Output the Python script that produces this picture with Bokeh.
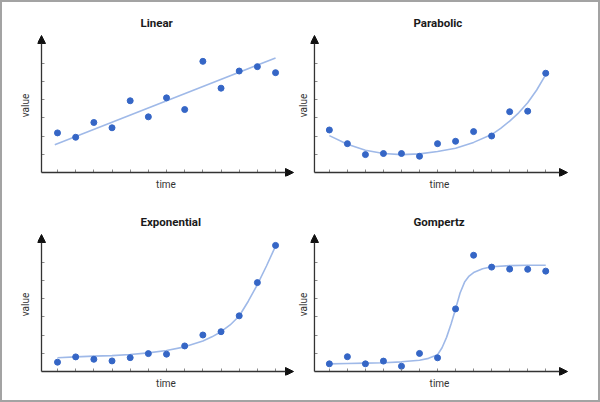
from bokeh.plotting import figure
from bokeh.layouts import gridplot
from bokeh.models import Arrow, NormalHead, FixedTicker, Range1d, CustomJSTickFormatter, LinearAxis
from bokeh.embed import file_html
from bokeh.resources import INLINE

# ---- data ----
time = [1, 2, 3, 4, 5, 6, 7, 8, 9, 10, 11, 12, 13]
y_ticks = [1, 2, 3, 4, 5, 6]
x_label = "time"
y_label = "value"

linear_title = "Linear"
linear_values = [2.17, 1.93, 2.74, 2.45, 3.93, 3.05, 4.09, 3.45, 6.09, 4.62, 5.56, 5.80, 5.47]
linear_fit_t = [0.85, 13.0]
linear_fit_v = [1.52, 6.28]

parabolic_title = "Parabolic"
parabolic_values = [2.33, 1.58, 0.98, 1.04, 1.04, 0.89, 1.58, 1.71, 2.24, 2.00, 3.33, 3.36, 5.44]
parabolic_fit_t = [1, 2, 3, 4, 5, 6, 7, 8, 9, 10, 10.5, 11, 11.5, 12, 12.5, 13]
parabolic_fit_v = [2.02, 1.55, 1.22, 1.04, 0.98, 1.02, 1.15, 1.33, 1.65, 2.08, 2.42, 2.82, 3.27, 3.82, 4.52, 5.36]

exponential_title = "Exponential"
exponential_values = [0.51, 0.80, 0.67, 0.58, 0.76, 0.98, 0.95, 1.40, 2.00, 2.18, 3.05, 4.87, 6.91]
exponential_fit_t = [1, 2, 3, 4, 5, 6, 7, 8, 9, 9.5, 10, 10.5, 11, 11.5, 12, 12.5, 13]
exponential_fit_v = [0.75, 0.80, 0.84, 0.87, 0.93, 1.02, 1.15, 1.35, 1.67, 1.90, 2.18, 2.55, 3.04, 3.85, 4.76, 5.78, 6.87]

gompertz_title = "Gompertz"
gompertz_values = [0.42, 0.81, 0.42, 0.57, 0.29, 0.99, 0.75, 3.43, 6.37, 5.72, 5.61, 5.60, 5.50]
gompertz_fit_t = [1, 2, 3, 4, 5, 6, 6.5, 7, 7.25, 7.5, 7.75, 8, 8.25, 8.5, 8.75, 9, 9.5, 10, 11, 12, 13]
gompertz_fit_v = [0.42, 0.44, 0.46, 0.48, 0.53, 0.62, 0.72, 0.92, 1.30, 1.87, 2.60, 3.43, 4.30, 4.90, 5.23, 5.42, 5.63, 5.74, 5.80, 5.82, 5.82]

# ---- layout geometry (pixels inside the page border) ----
ROW_H = 199
FRAME_TOP = 32          # y-axis arrow tip sits 1 px lower
AXIS_Y = 170            # x-axis line, from the top of a panel
EXT = 4                 # room for half an arrow head outside the axes
PX_X = 18.17            # pixels per time step
PX_Y = 18.25            # pixels per value unit
COLS = [
    dict(width=292, axis=39, t_axis=0.119, tip=291, title_off=103, ylab_standoff=7),
    dict(width=304, axis=18, t_axis=0.174, tip=273, title_off=103, ylab_standoff=2),
]

POINT_COLOR = "#3566c6"
FIT_COLOR = "#9fb9e8"
AXIS_COLOR = "#333333"
TICK_COLOR = "#8a8a8a"
FONT = "Roboto"


def blank_axis(ax):
    ax.formatter = CustomJSTickFormatter(code="return ''")
    ax.major_label_text_font_size = "0px"
    ax.major_label_standoff = 0
    ax.minor_tick_line_color = None
    ax.axis_line_color = None


def panel(title, values, fit_t, fit_v, col):
    g = COLS[col]
    x_start = g["t_axis"] - EXT / PX_X
    x_end = g["t_axis"] + (g["tip"] + 1 - g["axis"]) / PX_X
    x_tip = g["t_axis"] + (g["tip"] - g["axis"]) / PX_X
    y_start = -EXT / PX_Y
    y_end = (AXIS_Y - FRAME_TOP) / PX_Y
    y_tip = (AXIS_Y - FRAME_TOP - 1) / PX_Y

    p = figure(width=g["width"], height=ROW_H, x_range=Range1d(x_start, x_end),
               y_range=Range1d(y_start, y_end), output_backend="svg", toolbar_location=None,
               title=title, min_border_left=g["axis"] - EXT, min_border_right=g["width"] - g["tip"] - 1,
               min_border_top=FRAME_TOP, min_border_bottom=ROW_H - AXIS_Y - EXT)
    p.outline_line_color = None
    p.grid.visible = False

    p.title.align = "left"
    p.title.offset = g["title_off"]
    p.title.standoff = 10
    p.title.text_font = FONT
    p.title.text_font_style = "bold"
    p.title.text_font_size = "11.5px"
    p.title.text_color = "#1a1a1a"

    # outer axes only carry the axis labels
    for ax, lab, so in ((p.xaxis[0], x_label, 2), (p.yaxis[0], y_label, g["ylab_standoff"])):
        blank_axis(ax)
        ax.ticker = FixedTicker(ticks=[])
        ax.major_tick_line_color = None
        ax.axis_label = lab
        ax.axis_label_text_font = FONT
        ax.axis_label_text_font_style = "normal"
        ax.axis_label_text_font_size = "10px"
        ax.axis_label_text_color = "#333333"
        ax.axis_label_standoff = so

    # tick marks sit on the real axis lines
    xt = LinearAxis(fixed_location=0, ticker=FixedTicker(ticks=time))
    yt = LinearAxis(fixed_location=g["t_axis"], ticker=FixedTicker(ticks=y_ticks))
    for ax in (xt, yt):
        blank_axis(ax)
        ax.major_tick_in = 3
        ax.major_tick_out = 0
        ax.major_tick_line_color = TICK_COLOR
    p.add_layout(xt, "below")
    p.add_layout(yt, "left")

    # axis lines with arrow heads
    head = dict(size=8, fill_color="#111111", line_color="#111111", line_width=1)
    p.add_layout(Arrow(end=NormalHead(**head), x_start=g["t_axis"], y_start=0, x_end=x_tip, y_end=0,
                       line_color=AXIS_COLOR, line_width=1.3))
    p.add_layout(Arrow(end=NormalHead(**head), x_start=g["t_axis"], y_start=0, x_end=g["t_axis"], y_end=y_tip,
                       line_color=AXIS_COLOR, line_width=1.3))

    p.line(fit_t, fit_v, line_color=FIT_COLOR, line_width=1.6)
    p.scatter(time, values, size=6, fill_color=POINT_COLOR, line_color=POINT_COLOR)
    return p


p1 = panel(linear_title, linear_values, linear_fit_t, linear_fit_v, 0)
p2 = panel(parabolic_title, parabolic_values, parabolic_fit_t, parabolic_fit_v, 1)
p3 = panel(exponential_title, exponential_values, exponential_fit_t, exponential_fit_v, 0)
p4 = panel(gompertz_title, gompertz_values, gompertz_fit_t, gompertz_fit_v, 1)

grid = gridplot([[p1, p2], [p3, p4]], toolbar_location=None)
grid.styles = {"border": "2px solid #a3a3a3"}

open("out.html", "w").write(file_html(grid, INLINE))
